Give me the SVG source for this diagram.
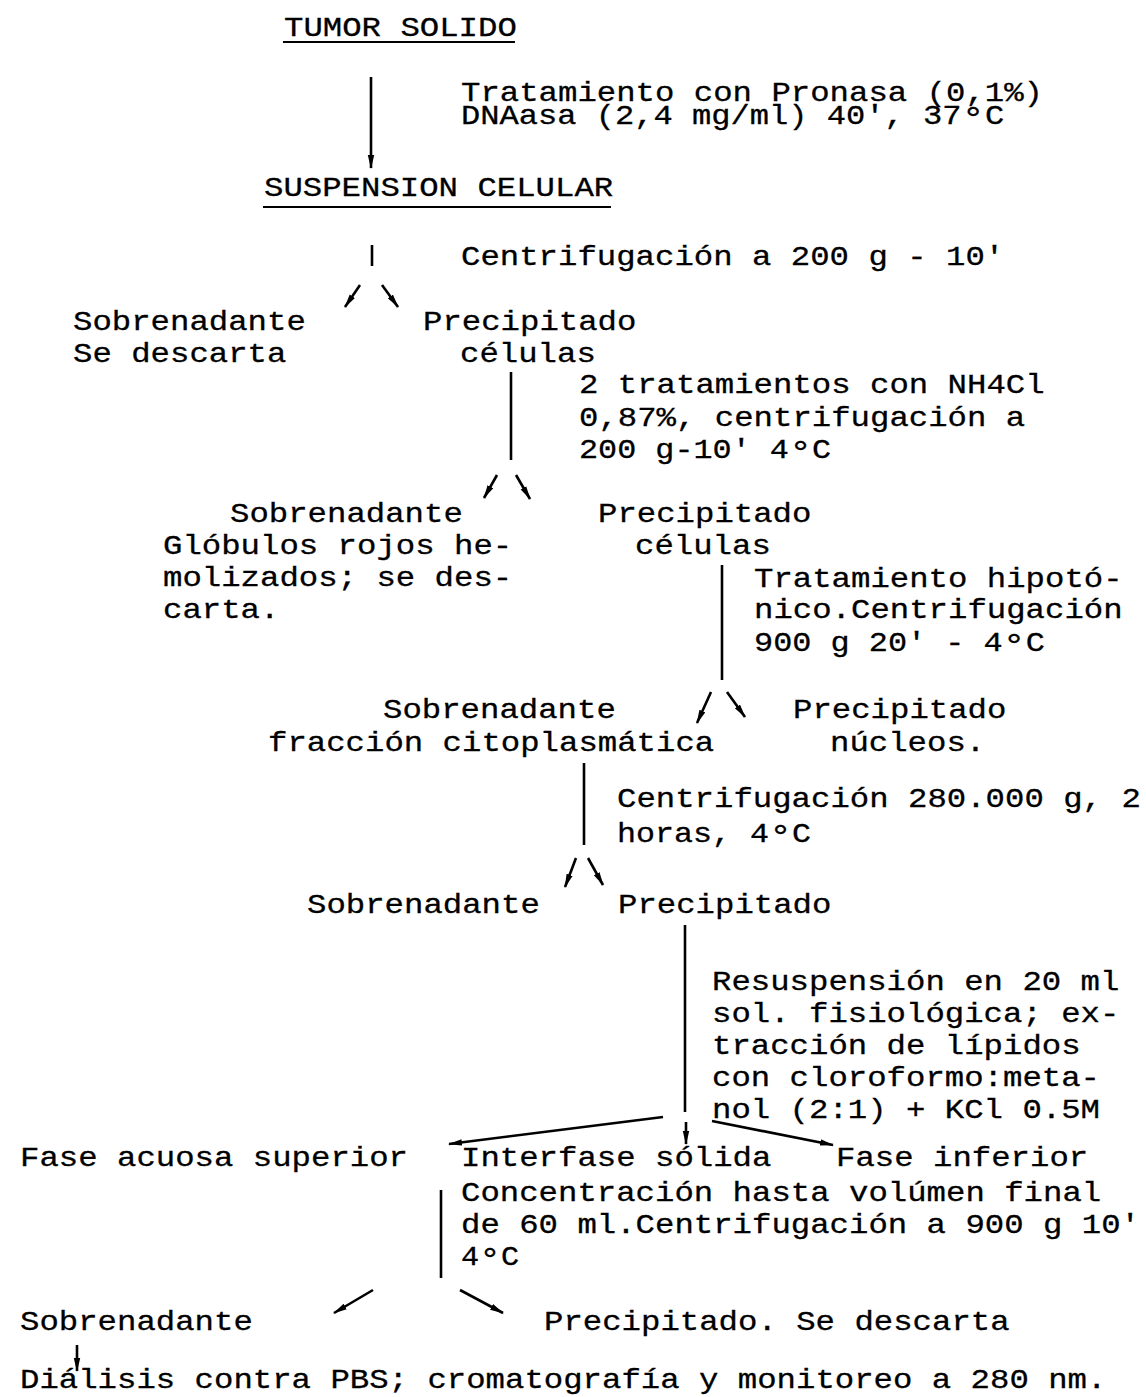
<svg xmlns="http://www.w3.org/2000/svg" width="1146" height="1397" viewBox="0 0 1146 1397">
<style>
text{font-family:"Liberation Mono","Courier New",monospace;font-size:28px;fill:#000;stroke:#000;stroke-width:0.3px}
.ln{stroke:#000;stroke-width:2.6;fill:none}
.ar{stroke:#000;stroke-width:2.6;fill:none;marker-end:url(#ah)}
.ul{stroke:#000;stroke-width:2.2}
.dg{font-size:34px}
</style>
<defs>
<marker id="ah" markerUnits="userSpaceOnUse" markerWidth="16" markerHeight="8" refX="13" refY="3.5" orient="auto">
<path d="M0,0.3 L14,3.5 L0,6.7 z" fill="#000"/>
</marker>
</defs>
<rect width="1146" height="1397" fill="#fff"/>
<g id="connectors">
<line class="ar" x1="371" y1="77" x2="371" y2="168"/>
<line class="ln" x1="372" y1="245" x2="372" y2="266"/>
<line class="ar" x1="360" y1="285" x2="345" y2="307"/>
<line class="ar" x1="382" y1="285" x2="398" y2="307"/>
<line class="ln" x1="511" y1="372" x2="511" y2="460"/>
<line class="ar" x1="497" y1="475" x2="484" y2="498"/>
<line class="ar" x1="516" y1="475" x2="530" y2="499"/>
<line class="ln" x1="722" y1="565" x2="722" y2="680"/>
<line class="ar" x1="711" y1="692" x2="697" y2="723"/>
<line class="ar" x1="727" y1="692" x2="745" y2="717"/>
<line class="ln" x1="584" y1="763" x2="584" y2="845"/>
<line class="ar" x1="576" y1="858" x2="565" y2="887"/>
<line class="ar" x1="588" y1="858" x2="603" y2="885"/>
<line class="ln" x1="685" y1="925" x2="685" y2="1112"/>
<line class="ar" x1="686" y1="1122" x2="686" y2="1144"/>
<line class="ar" x1="663" y1="1117" x2="449" y2="1144"/>
<line class="ar" x1="712" y1="1121" x2="833" y2="1145"/>
<line class="ln" x1="441" y1="1190" x2="441" y2="1278"/>
<line class="ar" x1="373" y1="1290" x2="334" y2="1313"/>
<line class="ar" x1="460" y1="1290" x2="503" y2="1313"/>
<line class="ar" x1="77" y1="1345" x2="77" y2="1371"/>
</g>
<g id="n-tumor">
<text x="284" y="36" textLength="232.8" lengthAdjust="spacingAndGlyphs">TUMOR SOLIDO</text>
<line class="ul" x1="283" y1="42" x2="515" y2="42"/>
</g>
<g id="l-pronasa">
<text x="461" y="101" textLength="582" lengthAdjust="spacingAndGlyphs">Tratamiento con Pronasa (0,1%)</text>
<text x="461" y="124" textLength="543.2" lengthAdjust="spacingAndGlyphs">DNAasa (2,4 mg/ml) 40', 37<tspan class="dg" dy="5">°</tspan><tspan dy="-5">C</tspan></text>
</g>
<g id="n-suspension">
<text x="264" y="196" textLength="349.2" lengthAdjust="spacingAndGlyphs">SUSPENSION CELULAR</text>
<line class="ul" x1="263" y1="207" x2="611" y2="207"/>
</g>
<g id="l-centrif1">
<text x="461" y="265" textLength="543.2" lengthAdjust="spacingAndGlyphs">Centrifugación a 200 g - 10'</text>
</g>
<g id="n-sobre1">
<text x="73" y="330" textLength="232.8" lengthAdjust="spacingAndGlyphs">Sobrenadante</text>
<text x="73" y="362" textLength="213.4" lengthAdjust="spacingAndGlyphs">Se descarta</text>
</g>
<g id="n-prec1">
<text x="423" y="330" textLength="213.4" lengthAdjust="spacingAndGlyphs">Precipitado</text>
<text x="460" y="362" textLength="135.8" lengthAdjust="spacingAndGlyphs">células</text>
</g>
<g id="l-nh4cl">
<text x="579" y="393" textLength="465.6" lengthAdjust="spacingAndGlyphs">2 tratamientos con NH4Cl</text>
<text x="579" y="426" textLength="446.2" lengthAdjust="spacingAndGlyphs">0,87%, centrifugación a</text>
<text x="579" y="458" textLength="252.2" lengthAdjust="spacingAndGlyphs">200 g-10' 4<tspan class="dg" dy="5">°</tspan><tspan dy="-5">C</tspan></text>
</g>
<g id="n-sobre2">
<text x="230" y="522" textLength="232.8" lengthAdjust="spacingAndGlyphs">Sobrenadante</text>
<text x="163" y="554" textLength="349.2" lengthAdjust="spacingAndGlyphs">Glóbulos rojos he-</text>
<text x="163" y="586" textLength="349.2" lengthAdjust="spacingAndGlyphs">molizados; se des-</text>
<text x="163" y="618" textLength="116.4" lengthAdjust="spacingAndGlyphs">carta.</text>
</g>
<g id="n-prec2">
<text x="598" y="522" textLength="213.4" lengthAdjust="spacingAndGlyphs">Precipitado</text>
<text x="635" y="554" textLength="135.8" lengthAdjust="spacingAndGlyphs">células</text>
</g>
<g id="l-hipo">
<text x="754" y="587" textLength="368.6" lengthAdjust="spacingAndGlyphs">Tratamiento hipotó-</text>
<text x="754" y="618" textLength="368.6" lengthAdjust="spacingAndGlyphs">nico.Centrifugación</text>
<text x="754" y="651" textLength="291" lengthAdjust="spacingAndGlyphs">900 g 20' - 4<tspan class="dg" dy="5">°</tspan><tspan dy="-5">C</tspan></text>
</g>
<g id="n-sobre3">
<text x="383" y="718" textLength="232.8" lengthAdjust="spacingAndGlyphs">Sobrenadante</text>
<text x="268" y="751" textLength="446.2" lengthAdjust="spacingAndGlyphs">fracción citoplasmática</text>
</g>
<g id="n-prec3">
<text x="793" y="718" textLength="213.4" lengthAdjust="spacingAndGlyphs">Precipitado</text>
<text x="830" y="751" textLength="155.2" lengthAdjust="spacingAndGlyphs">núcleos.</text>
</g>
<g id="l-centrif2">
<text x="617" y="807" textLength="523.8" lengthAdjust="spacingAndGlyphs">Centrifugación 280.000 g, 2</text>
<text x="617" y="842" textLength="194" lengthAdjust="spacingAndGlyphs">horas, 4<tspan class="dg" dy="5">°</tspan><tspan dy="-5">C</tspan></text>
</g>
<g id="n-sobre4">
<text x="307" y="913" textLength="232.8" lengthAdjust="spacingAndGlyphs">Sobrenadante</text>
</g>
<g id="n-prec4">
<text x="618" y="913" textLength="213.4" lengthAdjust="spacingAndGlyphs">Precipitado</text>
</g>
<g id="l-resusp">
<text x="712" y="990" textLength="407.4" lengthAdjust="spacingAndGlyphs">Resuspensión en 20 ml</text>
<text x="712" y="1022" textLength="407.4" lengthAdjust="spacingAndGlyphs">sol. fisiológica; ex-</text>
<text x="712" y="1054" textLength="368.6" lengthAdjust="spacingAndGlyphs">tracción de lípidos</text>
<text x="712" y="1086" textLength="388" lengthAdjust="spacingAndGlyphs">con cloroformo:meta-</text>
<text x="712" y="1118" textLength="388" lengthAdjust="spacingAndGlyphs">nol (2:1) + KCl 0.5M</text>
</g>
<g id="n-fase-sup">
<text x="20" y="1166" textLength="388" lengthAdjust="spacingAndGlyphs">Fase acuosa superior</text>
</g>
<g id="n-interfase">
<text x="461" y="1166" textLength="310.4" lengthAdjust="spacingAndGlyphs">Interfase sólida</text>
</g>
<g id="n-fase-inf">
<text x="836" y="1166" textLength="252.2" lengthAdjust="spacingAndGlyphs">Fase inferior</text>
</g>
<g id="l-concentr">
<text x="461" y="1201" textLength="640.2" lengthAdjust="spacingAndGlyphs">Concentración hasta volúmen final</text>
<text x="461" y="1233" textLength="679" lengthAdjust="spacingAndGlyphs">de 60 ml.Centrifugación a 900 g 10'</text>
<text x="461" y="1265" textLength="58.2" lengthAdjust="spacingAndGlyphs">4<tspan class="dg" dy="5">°</tspan><tspan dy="-5">C</tspan></text>
</g>
<g id="n-sobre5">
<text x="20" y="1330" textLength="232.8" lengthAdjust="spacingAndGlyphs">Sobrenadante</text>
</g>
<g id="n-prec5">
<text x="544" y="1330" textLength="465.6" lengthAdjust="spacingAndGlyphs">Precipitado. Se descarta</text>
</g>
<g id="n-dialisis">
<text x="20" y="1388" textLength="1086.4" lengthAdjust="spacingAndGlyphs">Diálisis contra PBS; cromatografía y monitoreo a 280 nm.</text>
</g>
</svg>
